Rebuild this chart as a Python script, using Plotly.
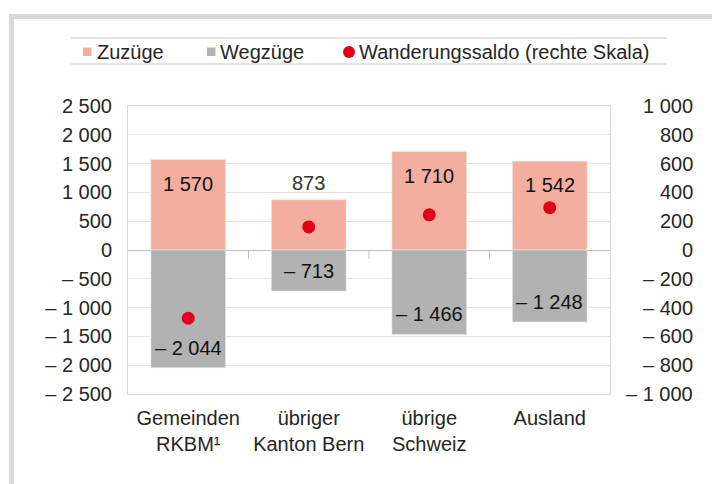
import plotly.graph_objects as go

# ---- data ----
categories = ["Gemeinden<br>RKBM\u00b9", "übriger<br>Kanton Bern", "übrige<br>Schweiz", "Ausland"]
zuzuege = [1570, 873, 1710, 1542]
wegzuege = [-2044, -713, -1466, -1248]
saldo = [-474, 160, 244, 294]
left_ticks = [-2500, -2000, -1500, -1000, -500, 0, 500, 1000, 1500, 2000, 2500]
right_ticks = [-1000, -800, -600, -400, -200, 0, 200, 400, 600, 800, 1000]
legend_names = ["Zuzüge", "Wegzüge", "Wanderungssaldo (rechte Skala)"]

# ---- style ----
PINK = "#F3AE9F"
GREY = "#B2B2B2"
RED = "#E2001A"
FONT = "Liberation Sans, Arial, sans-serif"
FS = 20
TXT = "#262626"

OFF = 8  # page body margin
W, H = 720 - OFF, 484 - OFF
L, R, T, B = 128 - OFF, 110, 106 - OFF, 90
PW, PH = W - L - R, H - T - B


def px(x):
    return (x - OFF - L) / PW


def py(y):
    return (H - B - (y - OFF)) / PH


def fmt(v):
    s = f"{abs(v):,}".replace(",", " ")
    return ("\u2013 " + s) if v < 0 else s


xs = list(range(len(categories)))

fig = go.Figure()
fig.add_trace(go.Bar(x=xs, y=zuzuege, marker_color=PINK, width=0.62,
                     name=legend_names[0], showlegend=False, hoverinfo="skip"))
fig.add_trace(go.Bar(x=xs, y=wegzuege, marker_color=GREY, width=0.62,
                     name=legend_names[1], showlegend=False, hoverinfo="skip"))
fig.add_trace(go.Scatter(x=xs, y=saldo, yaxis="y2", mode="markers",
                         marker=dict(color=RED, size=13),
                         name=legend_names[2], showlegend=False, hoverinfo="skip"))

annotations = []
# bar value labels
outside = [v < 1000 for v in zuzuege]
for i, v in enumerate(zuzuege):
    annotations.append(dict(x=xs[i], y=v, xref="x", yref="y", text=fmt(v),
                            showarrow=False, yanchor="middle",
                            yshift=17 if outside[i] else -24,
                            font=dict(size=FS, color="#333333" if outside[i] else "#111111", family=FONT)))
for i, v in enumerate(wegzuege):
    annotations.append(dict(x=xs[i], y=v, xref="x", yref="y", text=fmt(v),
                            showarrow=False, yanchor="middle", yshift=20,
                            font=dict(size=FS, color="#111111", family=FONT)))
# right-axis tick labels (right aligned)
for v in right_ticks:
    annotations.append(dict(x=px(695), y=v, xref="paper", yref="y2", text=fmt(v),
                            showarrow=False, xanchor="right", yanchor="middle",
                            font=dict(size=FS, color=TXT, family=FONT)))
# legend texts
leg_text_x = [95, 218, 357]
for name, lx in zip(legend_names, leg_text_x):
    annotations.append(dict(x=px(lx), y=py(52), xref="paper", yref="paper", text=name,
                            showarrow=False, xanchor="left", yanchor="middle",
                            font=dict(size=FS, color=TXT, family=FONT)))

shapes = []
FRAME = "#D9D9D9"
# grey frame
shapes.append(dict(type="rect", xref="paper", yref="paper", x0=px(9), x1=px(730),
                   y0=py(19), y1=py(14), fillcolor=FRAME, line_width=0, layer="below"))
shapes.append(dict(type="rect", xref="paper", yref="paper", x0=px(9), x1=px(14),
                   y0=py(490), y1=py(14), fillcolor=FRAME, line_width=0, layer="below"))
# legend rules
for ly in (38, 64):
    shapes.append(dict(type="line", xref="paper", yref="paper", x0=px(71), x1=px(667),
                       y0=py(ly), y1=py(ly), line=dict(color="#E3E3E3", width=2)))
# legend symbols
shapes.append(dict(type="rect", xref="paper", yref="paper", x0=px(83), x1=px(91.5),
                   y0=py(56), y1=py(47.5), fillcolor=PINK, line_width=0))
shapes.append(dict(type="rect", xref="paper", yref="paper", x0=px(207), x1=px(215.5),
                   y0=py(56), y1=py(47.5), fillcolor=GREY, line_width=0))
shapes.append(dict(type="circle", xref="paper", yref="paper", x0=px(343), x1=px(355),
                   y0=py(58), y1=py(46), fillcolor=RED, line_width=0))
# category tick marks on zero line
for i in range(len(categories) - 1):
    shapes.append(dict(type="line", xref="x", yref="y", ysizemode="pixel", yanchor=0,
                       x0=i + 0.5, x1=i + 0.5, y0=0, y1=-9,
                       line=dict(color="#BFBFBF", width=1)))

fig.update_layout(
    width=W, height=H,
    margin=dict(l=L, r=R, t=T, b=B, pad=0),
    paper_bgcolor="white", plot_bgcolor="white",
    barmode="overlay", bargap=0.38,
    showlegend=False,
    font=dict(family=FONT, size=FS, color=TXT),
    annotations=annotations, shapes=shapes,
    xaxis=dict(range=[-0.5, len(categories) - 0.5], tickvals=xs, ticktext=categories,
               showgrid=False, zeroline=False, showline=True, mirror=True,
               linecolor="#D9D9D9", linewidth=1, ticks="", ticklabelstandoff=6,
               tickfont=dict(size=FS, color=TXT, family=FONT)),
    yaxis=dict(range=[-2500, 2500], tickvals=left_ticks, ticktext=[fmt(v) for v in left_ticks],
               showgrid=True, gridcolor="#E3E3E3", gridwidth=1,
               zeroline=True, zerolinecolor="#BFBFBF", zerolinewidth=1,
               showline=True, mirror=True, linecolor="#D9D9D9", linewidth=1,
               ticks="", ticklabelstandoff=11,
               tickfont=dict(size=FS, color=TXT, family=FONT)),
    yaxis2=dict(range=[-1000, 1000], overlaying="y", side="right", showgrid=False,
                zeroline=False, showticklabels=False, showline=False, ticks=""),
)

fig.write_html("out.html")
